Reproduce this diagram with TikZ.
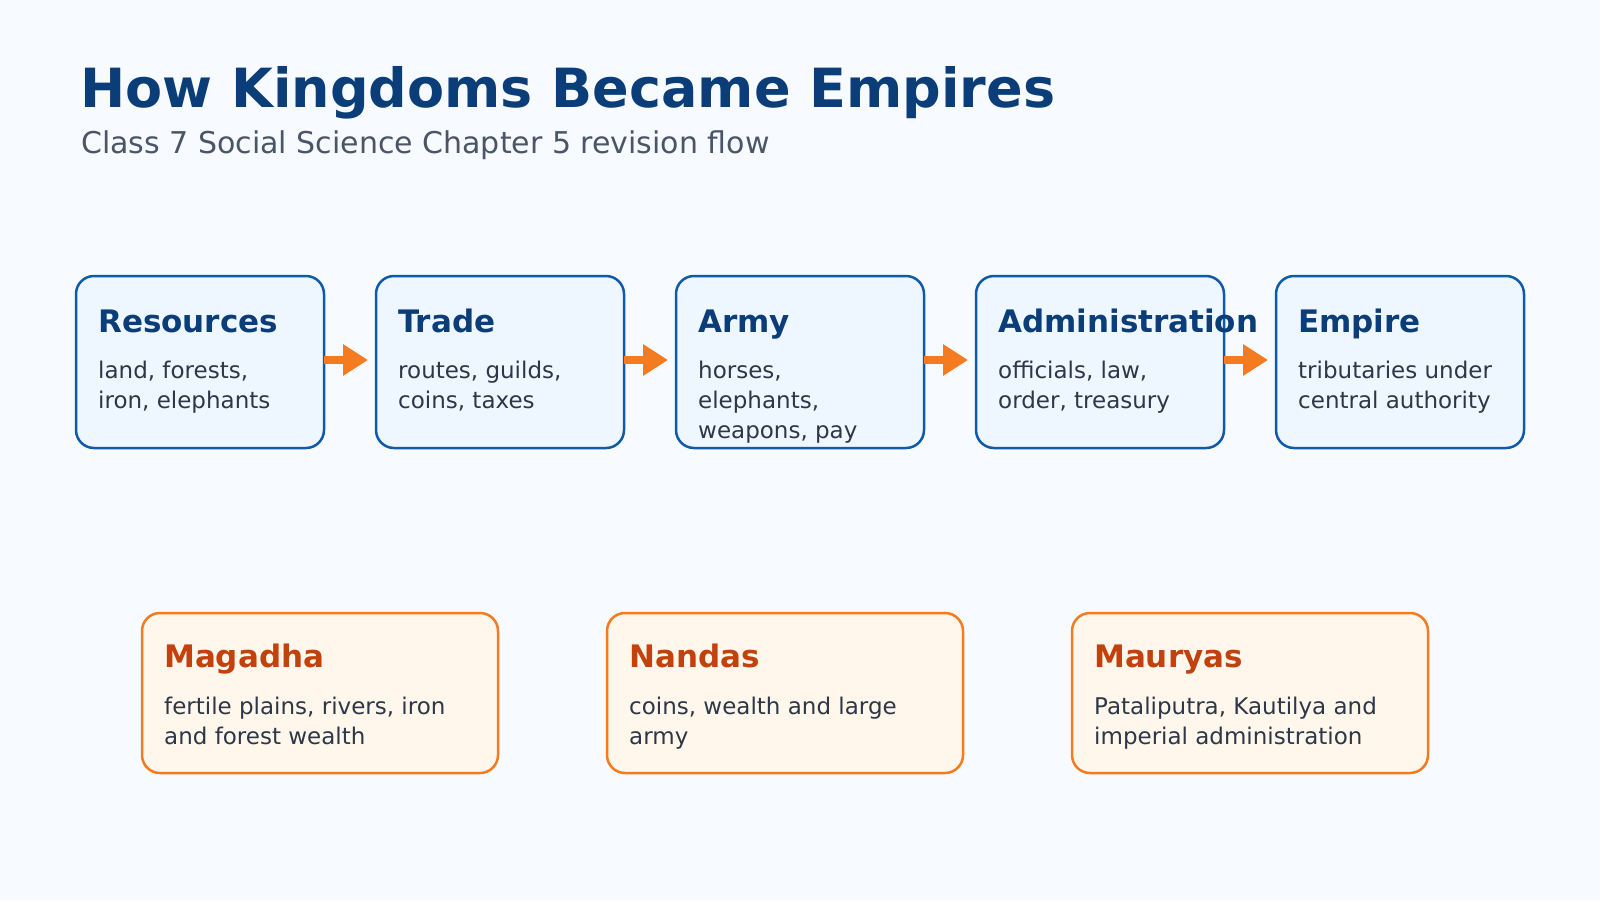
\documentclass[tikz,border=0pt]{standalone}
\usepackage{fontspec}
\setmainfont{DejaVu Sans}
\usetikzlibrary{arrows.meta}
\usetikzlibrary{positioning}
\definecolor{bgcol}{HTML}{F7FBFF}
\definecolor{navy}{HTML}{0B3D78}
\definecolor{slate}{HTML}{4A5568}
\definecolor{bodytxt}{HTML}{2D3748}
\definecolor{stepline}{HTML}{0F5BAA}
\definecolor{stepfill}{HTML}{EEF6FF}
\definecolor{flow}{HTML}{F47B20}
\definecolor{eraline}{HTML}{F47B20}
\definecolor{erafill}{HTML}{FFF7EB}
\definecolor{eraname}{HTML}{C2410C}
\tikzset{
    stepbox/.style={
        draw=stepline,
        fill=stepfill,
        line width=2.5pt,
        rounded corners=18pt,
        minimum width=248pt,
        minimum height=172pt,
        inner sep=0pt,
        outer sep=0pt,
        anchor=north west
    },
    erabox/.style={
        draw=eraline,
        fill=erafill,
        line width=2.5pt,
        rounded corners=18pt,
        minimum width=356pt,
        minimum height=160pt,
        inner sep=0pt,
        outer sep=0pt,
        anchor=north west
    },
    steptitle/.style={
        anchor=base west,
        inner sep=0pt,
        text=navy,
        font=\fontsize{31}{36}\selectfont\bfseries
    },
    eratitle/.style={
        anchor=base west,
        inner sep=0pt,
        text=eraname,
        font=\fontsize{31}{36}\selectfont\bfseries
    },
    % base anchor sits on the last line
    bodytext/.style={
        anchor=base west,
        inner sep=0pt,
        align=left,
        text=bodytxt,
        font=\fontsize{23}{30}\selectfont
    },
    flowarrow/.style={
        draw=flow,
        line width=8pt,
        -{Triangle[length=25pt, width=30pt]},
        shorten >=8pt
    }
}

\begin{document}
\begin{tikzpicture}[x=1pt, y=-1pt]
    % Background
    \fill[bgcol] (0,0) rectangle (1600,900);
    \useasboundingbox (0,0) rectangle (1600,900);

    % Heading
    \node[anchor=base west, inner sep=0pt, text=navy, font=\fontsize{54}{60}\selectfont\bfseries] (heading) at (80,107) {How Kingdoms Became Empires};
    \node[anchor=base west, inner sep=0pt, text=slate, font=\fontsize{30}{34}\selectfont] (subheading) at (81,153) {Class 7 Social Science Chapter 5 revision flow};

    % Flow boxes
    \node[stepbox] (res) at (76,276) {};
    \node[stepbox] (trade) at (376,276) {};
    \node[stepbox] (army) at (676,276) {};
    \node[stepbox] (admin) at (976,276) {};
    \node[stepbox] (empire) at (1276,276) {};

    % Flow box texts
    \node[steptitle] (res-t) at (98,332) {Resources};
    \node[bodytext] (res-b) at (98,408) {land, forests,\\iron, elephants};
    \node[steptitle] (trade-t) at (398,332) {Trade};
    \node[bodytext] (trade-b) at (398,408) {routes, guilds,\\coins, taxes};
    \node[steptitle] (army-t) at (698,332) {Army};
    \node[bodytext] (army-b) at (698,438) {horses,\\elephants,\\weapons, pay};
    \node[steptitle] (admin-t) at (998,332) {Administration};
    \node[bodytext] (admin-b) at (998,408) {officials, law,\\order, treasury};
    \node[steptitle] (empire-t) at (1298,332) {Empire};
    \node[bodytext] (empire-b) at (1298,408) {tributaries under\\central authority};

    % Arrows
    \draw[flowarrow] ([yshift=2pt]res.east) -- ([yshift=2pt]trade.west);
    \draw[flowarrow] ([yshift=2pt]trade.east) -- ([yshift=2pt]army.west);
    \draw[flowarrow] ([yshift=2pt]army.east) -- ([yshift=2pt]admin.west);
    \draw[flowarrow] ([yshift=2pt]admin.east) -- ([yshift=2pt]empire.west);

    % Dynasty boxes
    \node[erabox] (magadha) at (142,613) {};
    \node[erabox] (nandas) at (607,613) {};
    \node[erabox] (mauryas) at (1072,613) {};

    \node[eratitle] (magadha-t) at (164,667) {Magadha};
    \node[bodytext] (magadha-b) at (164,744) {fertile plains, rivers, iron\\and forest wealth};
    \node[eratitle] (nandas-t) at (629,667) {Nandas};
    \node[bodytext] (nandas-b) at (629,744) {coins, wealth and large\\army};
    \node[eratitle] (mauryas-t) at (1094,667) {Mauryas};
    \node[bodytext] (mauryas-b) at (1094,744) {Pataliputra, Kautilya and\\imperial administration};
\end{tikzpicture}
\end{document}
